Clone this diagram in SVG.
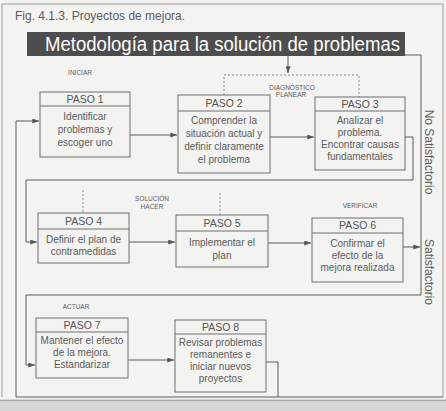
<svg xmlns="http://www.w3.org/2000/svg" width="446" height="411" viewBox="0 0 446 411">
<defs>
<marker id="ah" viewBox="0 0 8 6" refX="8" refY="3" markerWidth="7" markerHeight="5" markerUnits="userSpaceOnUse" orient="auto"><path d="M0,0 L8,3 L0,6 z" fill="#555"/></marker>
<style>
.bx{fill:none;stroke:#6e6e6e;stroke-width:1}
.dv{stroke:#6e6e6e;stroke-width:1}
.hd{font-family:"Liberation Sans",Arial,sans-serif;font-size:10.5px;fill:#555;text-anchor:middle}
.bd{font-family:"Liberation Sans",Arial,sans-serif;font-size:10px;fill:#5c5c5c;text-anchor:middle}
.lb{font-family:"Liberation Sans",Arial,sans-serif;font-size:6.5px;fill:#5c5c5c;text-anchor:middle}
.cn{fill:none;stroke:#5a5a5a;stroke-width:1}
.dt{fill:none;stroke:#8a8a8a;stroke-width:1;stroke-dasharray:2 2}
.side{font-family:"Liberation Sans",Arial,sans-serif;font-size:12px;fill:#5c5c5c;text-anchor:middle}
.fr{fill:none;stroke:#9a9a9a;stroke-width:1}
</style>
</defs>
<rect x="0" y="0" width="446" height="411" fill="#f3f3f1"/>
<rect x="0" y="399" width="446" height="12" fill="#d6d6d4"/>
<line x1="0" y1="400.5" x2="446" y2="400.5" stroke="#a8a8a8"/>
<path class="fr" d="M2,397 V4 H443 V397"/>
<text x="15" y="20" font-family="Liberation Sans, Arial, sans-serif" font-size="12" fill="#5c5c5c">Fig. 4.1.3. Proyectos de mejora.</text>

<g id="connectors">
<path class="cn" d="M130,135 H177" marker-end="url(#ah)"/>
<path class="cn" d="M270,137 H314" marker-end="url(#ah)"/>
<path class="cn" d="M405,137 H413 V180 H26 V242 H37" marker-end="url(#ah)"/>
<path class="cn" d="M129,242 H175" marker-end="url(#ah)"/>
<path class="cn" d="M268,243 H311" marker-end="url(#ah)"/>
<path class="cn" d="M403,247 H420" marker-end="url(#ah)"/>
<path class="cn" d="M421,247 V55 H288 V73" marker-end="url(#ah)"/>
<path class="cn" d="M421,247 V295 H26 V365 H35" marker-end="url(#ah)"/>
<path class="cn" d="M128,360 H174" marker-end="url(#ah)"/>
<path class="cn" d="M266,362 H278 V397 H16 V121 H39" marker-end="url(#ah)"/>
<path class="cn" d="M278,397 H443"/>
<path class="dt" d="M224,95 V75 H359 V97"/>
<path class="dt" d="M83,190 V213"/>
<path class="dt" d="M220,193 V215"/>
</g>

<g id="banner">
<rect x="27" y="32" width="378" height="24" fill="#4d4d4d"/>
<text x="222.5" y="50.5" font-family="Liberation Sans, Arial, sans-serif" font-size="20" fill="#ffffff" text-anchor="middle" textLength="355" lengthAdjust="spacingAndGlyphs">Metodología para la solución de problemas</text>
</g>

<g id="labels">
<text class="lb" x="80" y="75">INICIAR</text>
<text class="lb" x="292" y="90">DIAGNÓSTICO</text>
<text class="lb" x="291" y="97">PLANEAR</text>
<text class="lb" x="152" y="201">SOLUCIÓN</text>
<text class="lb" x="152" y="209">HACER</text>
<text class="lb" x="360" y="208">VERIFICAR</text>
<text class="lb" x="76" y="309">ACTUAR</text>
<text class="side" transform="translate(425,152) rotate(90)" x="0" y="0">No Satisfactorio</text>
<text class="side" transform="translate(425,272) rotate(90)" x="0" y="0">Satisfactorio</text>
</g>

<g id="paso1">
<rect class="bx" x="40" y="92" width="90" height="65"/>
<line class="dv" x1="40" y1="106" x2="130" y2="106"/>
<text class="hd" x="85" y="103">PASO 1</text>
<text class="bd" x="85" y="120">Identificar</text>
<text class="bd" x="85" y="133">problemas y</text>
<text class="bd" x="85" y="146">escoger uno</text>
</g>

<g id="paso2">
<rect class="bx" x="178" y="95" width="92" height="78"/>
<line class="dv" x1="178" y1="111" x2="270" y2="111"/>
<text class="hd" x="224" y="107">PASO 2</text>
<text class="bd" x="224" y="124">Comprender la</text>
<text class="bd" x="224" y="137">situación actual y</text>
<text class="bd" x="224" y="150">definir claramente</text>
<text class="bd" x="224" y="163">el problema</text>
</g>

<g id="paso3">
<rect class="bx" x="315" y="97" width="90" height="73"/>
<line class="dv" x1="315" y1="111" x2="405" y2="111"/>
<text class="hd" x="360" y="108">PASO 3</text>
<text class="bd" x="360" y="124">Analizar el</text>
<text class="bd" x="360" y="136">problema.</text>
<text class="bd" x="360" y="148">Encontrar causas</text>
<text class="bd" x="360" y="160">fundamentales</text>
</g>

<g id="paso4">
<rect class="bx" x="38" y="213" width="91" height="50"/>
<line class="dv" x1="38" y1="229" x2="129" y2="229"/>
<text class="hd" x="83.5" y="225">PASO 4</text>
<text class="bd" x="83.5" y="243">Definir el plan de</text>
<text class="bd" x="83.5" y="255">contramedidas</text>
</g>

<g id="paso5">
<rect class="bx" x="176" y="215" width="92" height="52"/>
<line class="dv" x1="176" y1="231" x2="268" y2="231"/>
<text class="hd" x="222" y="227">PASO 5</text>
<text class="bd" x="222" y="246">Implementar el</text>
<text class="bd" x="222" y="259">plan</text>
</g>

<g id="paso6">
<rect class="bx" x="312" y="218" width="91" height="64"/>
<line class="dv" x1="312" y1="233" x2="403" y2="233"/>
<text class="hd" x="357.5" y="229">PASO 6</text>
<text class="bd" x="357.5" y="247">Confirmar el</text>
<text class="bd" x="357.5" y="259">efecto de la</text>
<text class="bd" x="357.5" y="271">mejora realizada</text>
</g>

<g id="paso7">
<rect class="bx" x="36" y="318" width="92" height="60"/>
<line class="dv" x1="36" y1="332" x2="128" y2="332"/>
<text class="hd" x="82" y="329">PASO 7</text>
<text class="bd" x="82" y="344">Mantener el efecto</text>
<text class="bd" x="82" y="356">de la mejora.</text>
<text class="bd" x="82" y="368">Estandarizar</text>
</g>

<g id="paso8">
<rect class="bx" x="175" y="320" width="91" height="72"/>
<line class="dv" x1="175" y1="334" x2="266" y2="334"/>
<text class="hd" x="220.5" y="331">PASO 8</text>
<text class="bd" x="220.5" y="346">Revisar problemas</text>
<text class="bd" x="220.5" y="358">remanentes e</text>
<text class="bd" x="220.5" y="370">iniciar nuevos</text>
<text class="bd" x="220.5" y="382">proyectos</text>
</g>
</svg>
